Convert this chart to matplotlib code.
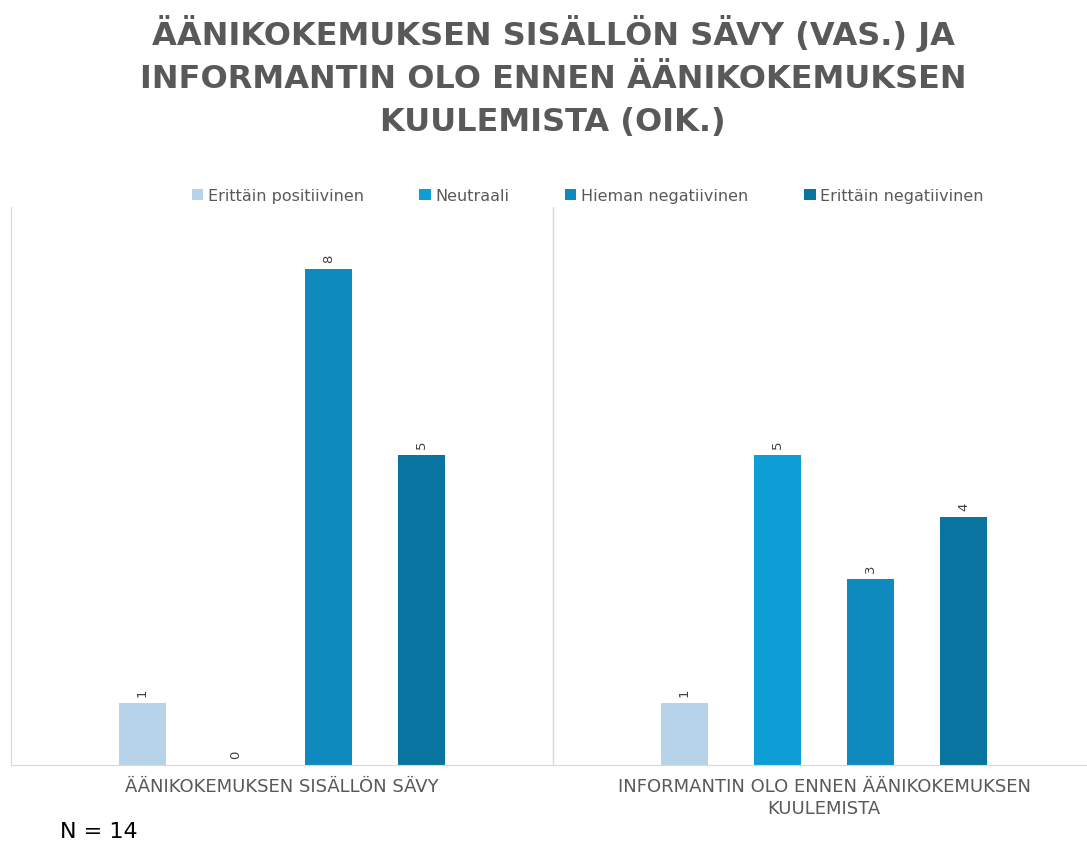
import matplotlib
matplotlib.use("Agg")
import matplotlib.pyplot as plt
import numpy as np

# data
categories = ["ÄÄNIKOKEMUKSEN SISÄLLÖN SÄVY",
              "INFORMANTIN OLO ENNEN ÄÄNIKOKEMUKSEN\nKUULEMISTA"]
series = ["Erittäin positiivinen", "Neutraali", "Hieman negatiivinen", "Erittäin negatiivinen"]
values = {
    "Erittäin positiivinen": [1, 1],
    "Neutraali": [0, 5],
    "Hieman negatiivinen": [8, 3],
    "Erittäin negatiivinen": [5, 4],
}
colors = ["#B7D3EA", "#0E9ED6", "#0E8ABF", "#0A74A0"]
title = "ÄÄNIKOKEMUKSEN SISÄLLÖN SÄVY (VAS.) JA\nINFORMANTIN OLO ENNEN ÄÄNIKOKEMUKSEN\nKUULEMISTA (OIK.)"
note = "N = 14"

GREY = "#595959"
LINE = "#D9D9D9"

fig = plt.figure(figsize=(10.87, 8.45), dpi=100)
ax = fig.add_axes([11 / 1087, 79 / 845, 1 - 11 / 1087, 558 / 845])

x = np.arange(len(categories))
step = 0.1716
width = 0.087
for i, (name, col) in enumerate(zip(series, colors)):
    pos = x + (i - 1.5) * step
    bars = ax.bar(pos, values[name], width, color=col, label=name)
    for b, v in zip(bars, values[name]):
        ax.text(b.get_x() + b.get_width() / 2, v + 0.12, str(v), rotation=90,
                ha="center", va="bottom", fontsize=9.5, color="#404040")

ax.set_xlim(-0.5, 0.5 + (1087 - 553) / 542)
ax.set_ylim(0, 9)
ax.axvline(0.5, color=LINE, lw=1)
for s in ["top", "right"]:
    ax.spines[s].set_visible(False)
for s in ["left", "bottom"]:
    ax.spines[s].set_color(LINE)
ax.set_yticks([])
ax.set_xticks(x)
ax.set_xticklabels(categories, fontsize=13, color=GREY, linespacing=1.25,
                   family="DejaVu Sans")
ax.tick_params(axis="x", length=0, pad=9)

fig.text(0.509, 0.982, title, ha="center", va="top", fontsize=23, fontweight="bold",
         color=GREY, linespacing=1.5)

ax.legend(loc="lower center", bbox_to_anchor=(0.536, 0.995), ncol=4, frameon=False,
          fontsize=11.5, labelcolor=GREY, handlelength=0.7, handleheight=0.7,
          handletextpad=0.3, columnspacing=3.5, borderaxespad=0)

fig.text(60 / 1087, 1 - 832 / 845, note, ha="left", va="center", fontsize=16, color="black")

fig.savefig("out.png", dpi=100)
